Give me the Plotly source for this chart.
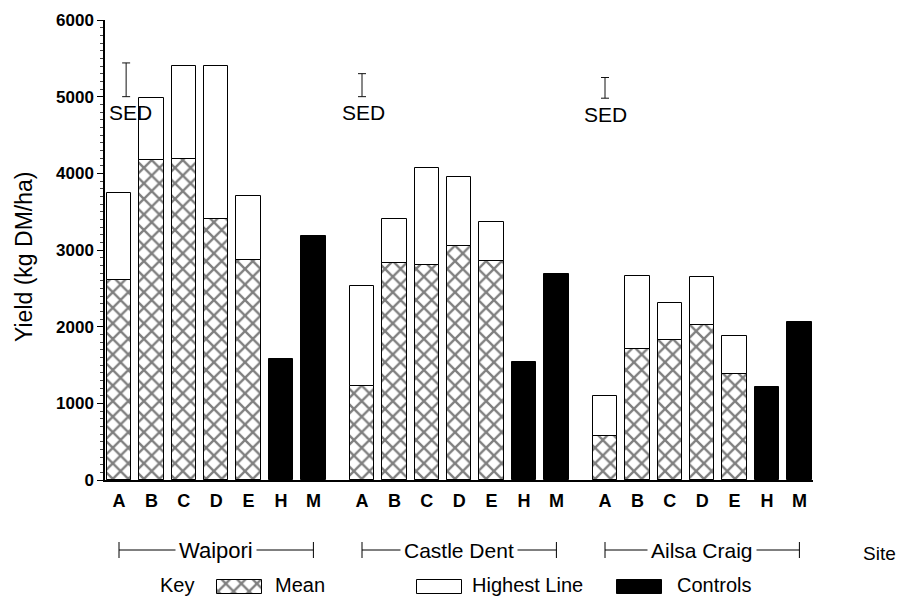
import plotly.graph_objects as go

# ---------------- data ----------------
sites = ["Waipori", "Castle Dent", "Ailsa Craig"]
lines = ["A", "B", "C", "D", "E"]
controls = ["H", "M"]

waipori_mean = [2610, 4180, 4190, 3400, 2870]
waipori_high = [3740, 4980, 5400, 5400, 3700]
waipori_ctrl = [1580, 3180]

castle_mean = [1220, 2830, 2800, 3050, 2860]
castle_high = [2530, 3400, 4070, 3950, 3360]
castle_ctrl = [1540, 2690]

ailsa_mean = [580, 1710, 1820, 2020, 1380]
ailsa_high = [1100, 2660, 2310, 2650, 1880]
ailsa_ctrl = [1210, 2060]

sed_low = [5000, 5000, 4980]
sed_high = [5440, 5300, 5250]

y_ticks = [0, 1000, 2000, 3000, 4000, 5000, 6000]

means = [waipori_mean, castle_mean, ailsa_mean]
highs = [waipori_high, castle_high, ailsa_high]
ctrls = [waipori_ctrl, castle_ctrl, ailsa_ctrl]

# ---------------- layout helpers ----------------
OFF = 8                      # page body margin
W, H = 900, 590
GROUP_STEP = 7.5
FONT = "Liberation Sans, Arial, sans-serif"
BW = 0.75
PATTERN = dict(shape="x", fgcolor="black", bgcolor="white", size=11, solidity=0.38)

def px(xs):
    return (xs - OFF) / W

def py(ys):
    return (H - (ys - OFF)) / H

def txt(x, y, text, size=21, xanchor="center", **kw):
    fig.add_annotation(x=x, y=y, text=text, showarrow=False, xanchor=xanchor,
                       yanchor=kw.pop("yanchor", "middle"),
                       font=dict(size=size, color="black", family=FONT), **kw)

x_line, x_ctrl, tickvals, ticktext = [], [], [], []
for g in range(len(sites)):
    xs = [g * GROUP_STEP + i for i in range(len(lines))]
    xc = [g * GROUP_STEP + len(lines) + i for i in range(len(controls))]
    x_line.append(xs)
    x_ctrl.append(xc)
    tickvals += xs + xc
    ticktext += lines + controls

fig = go.Figure()

all_x = sum(x_line, [])
fig.add_trace(go.Bar(
    x=all_x, y=sum(highs, []), width=BW, name="Highest Line",
    marker=dict(color="white", line=dict(color="black", width=1)),
    showlegend=False, hoverinfo="skip"))
fig.add_trace(go.Bar(
    x=all_x, y=sum(means, []), width=BW, name="Mean",
    marker=dict(color="white", line=dict(color="black", width=1), pattern=PATTERN),
    showlegend=False, hoverinfo="skip"))
fig.add_trace(go.Bar(
    x=sum(x_ctrl, []), y=sum(ctrls, []), width=BW, name="Controls",
    marker=dict(color="black", line=dict(color="black", width=1)),
    showlegend=False, hoverinfo="skip"))

# SED bars
sed_x = [x_line[0][0] + 0.22, x_line[1][0], x_line[2][0]]
fig.add_trace(go.Scatter(
    x=sed_x, y=sed_low, mode="markers", marker=dict(size=1, color="rgba(0,0,0,0)"),
    error_y=dict(type="data", symmetric=False,
                 array=[h - l for h, l in zip(sed_high, sed_low)],
                 arrayminus=[0] * 3, color="#111", thickness=1, width=4),
    showlegend=False, hoverinfo="skip"))
sed_text_x = [x_line[0][0] + 0.37, x_line[1][0] + 0.05, x_line[2][0]]
for xx, yl in zip(sed_text_x, sed_low):
    txt(xx, yl - 30, "SED", yanchor="top")

# site brackets below axis
yb = py(550)
for g, name in enumerate(sites):
    x0, x1 = x_line[g][0], x_ctrl[g][-1]
    fig.add_shape(type="line", xref="x", yref="paper", x0=x0, x1=x1, y0=yb, y1=yb,
                  line=dict(color="black", width=1))
    for xe in (x0, x1):
        fig.add_shape(type="line", xref="x", yref="paper", x0=xe, x1=xe,
                      y0=py(542), y1=py(558), line=dict(color="black", width=1))
    txt((x0 + x1) / 2, yb, name, size=22 if g == 0 else 21, xref="x", yref="paper",
        bgcolor="white", borderpad=3)
txt(px(898), py(553), "Site", size=19, xanchor="right", xref="paper", yref="paper")

# key row
ky = 585
txt(px(177), py(ky), "Key", size=20, xref="paper", yref="paper")
key_items = [("Mean", 239.5, 273), ("Highest Line", 439, 470), ("Controls", 639.5, 675)]
key_styles = {
    "Mean": dict(color="white", line=dict(color="black", width=1), pattern=PATTERN),
    "Highest Line": dict(color="white", line=dict(color="black", width=1)),
    "Controls": dict(color="black", line=dict(color="black", width=1)),
}
for label, cx, tx in key_items:
    fig.add_trace(go.Bar(x=[cx], y=[14], base=[580], width=[45], xaxis="x2", yaxis="y2",
                         marker=key_styles[label], showlegend=False, hoverinfo="skip"))
    txt(px(tx), py(ky), label, size=20, xanchor="left", xref="paper", yref="paper")

# y title
txt(px(24), py(257), "Yield (kg DM/ha)", size=23, xref="paper", yref="paper",
    textangle=-90)

x_lo = -(119 - 105) / 32.4
x_hi = (813 - 119) / 32.4
fig.update_layout(
    width=W, height=H, margin=dict(l=0, r=0, t=0, b=0, autoexpand=False),
    paper_bgcolor="white", plot_bgcolor="rgba(0,0,0,0)",
    barmode="overlay", bargap=0,
    font=dict(family=FONT, color="black"),
    xaxis=dict(domain=[px(105), px(813)], range=[x_lo, x_hi], automargin=False,
               tickvals=tickvals, ticktext=ticktext, ticks="", showgrid=False,
               zeroline=False, showline=True, linecolor="black", linewidth=1.5,
               tickfont=dict(size=18, color="black", family=FONT, weight="bold"),
               ticklabelstandoff=4, anchor="y"),
    yaxis=dict(domain=[py(480), py(20)], range=[0, 6000], tickvals=y_ticks, automargin=False,
               ticks="outside", ticklen=6, tickcolor="black", showgrid=False,
               zeroline=False, showline=True, linecolor="black", linewidth=1.5,
               tickfont=dict(size=17, color="black", family=FONT, weight="bold"),
               minor=dict(dtick=100, ticks="outside", ticklen=3, tickcolor="#444"),
               anchor="x"),
    xaxis2=dict(domain=[0, 1], range=[OFF, W + OFF], visible=False, anchor="y2",
                automargin=False),
    yaxis2=dict(domain=[0, 1], range=[H + OFF, OFF], visible=False, anchor="x2",
                automargin=False),
)

fig.write_html("out.html")
